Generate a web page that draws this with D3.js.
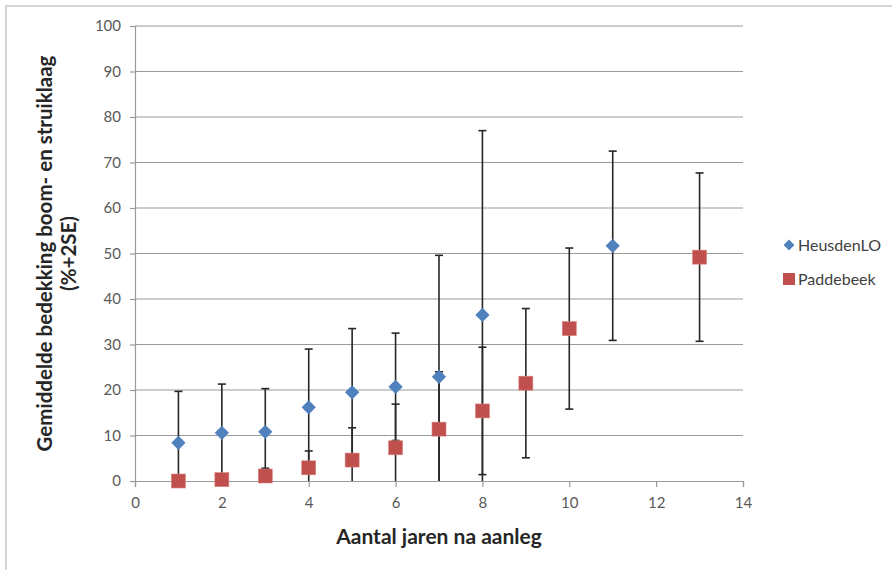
<!DOCTYPE html>
<html>
<head>
<meta charset="utf-8">
<script src="https://cdn.jsdelivr.net/npm/d3@7"></script>
<style>
  body { margin: 0; background: #fff; }
  text { font-family: Lato, "Open Sans", sans-serif; }
</style>
</head>
<body>
<div id="chart"></div>
<script>
// data: gemiddelde bedekking (%) met 2SE foutbalk
const heusdenYears = [1, 2, 3, 4, 5, 6, 7, 8, 11];
const heusdenMean  = [8.4, 10.6, 10.8, 16.2, 19.5, 20.7, 22.9, 36.5, 51.7];
const heusdenErr   = [11.3, 10.7, 9.5, 12.8, 14.0, 11.8, 26.7, 40.5, 20.8];

const paddeYears = [1, 2, 3, 4, 5, 6, 7, 8, 9, 10, 13];
const paddeMean  = [0.0, 0.3, 1.1, 2.9, 4.6, 7.3, 11.4, 15.4, 21.5, 33.5, 49.2];
const paddeErr   = [0.0, 0.0, 1.7, 3.7, 7.1, 9.6, 12.6, 14.0, 16.4, 17.7, 18.5];

const seriesNames = ["HeusdenLO", "Paddebeek"];
const xTicks = [0, 2, 4, 6, 8, 10, 12, 14];
const yTicks = [0, 10, 20, 30, 40, 50, 60, 70, 80, 90, 100];

const width = 892, height = 570;
const margin = { left: 135, right: 149, top: 26, bottom: 89 };

const svg = d3.select("#chart").append("svg")
    .attr("width", width)
    .attr("height", height);

// frame
svg.append("path")
    .attr("d", `M6,${height} V6 H${width}`)
    .attr("fill", "none")
    .attr("stroke", "#c8c8c8")
    .attr("stroke-width", 1.5);

const x = d3.scaleLinear().domain([0, 14]).range([margin.left, width - margin.right]);
const y = d3.scaleLinear().domain([0, 100]).range([height - margin.bottom, margin.top]);

// gridlines
svg.append("g")
    .selectAll("line")
    .data(yTicks.slice(1))
    .join("line")
    .attr("x1", x(0)).attr("x2", x(14))
    .attr("y1", d => y(d)).attr("y2", d => y(d))
    .attr("stroke", "#9a9a9a")
    .attr("stroke-width", 1.2);

// axes
const xAxis = svg.append("g")
    .attr("transform", `translate(0,${y(0)})`)
    .call(d3.axisBottom(x).tickValues(xTicks).tickSize(6).tickPadding(10));
const yAxis = svg.append("g")
    .attr("transform", `translate(${x(0)},0)`)
    .call(d3.axisLeft(y).tickValues(yTicks).tickSize(5).tickPadding(9));

[xAxis, yAxis].forEach(a => {
    a.select(".domain").attr("stroke", "#9a9a9a").attr("stroke-width", 1.2);
    a.selectAll(".tick line").attr("stroke", "#9a9a9a").attr("stroke-width", 1.2);
    a.selectAll(".tick text").attr("fill", "#595959").style("font-size", "15px");
});

// series
const heusden = heusdenYears.map((d, i) => ({ x: d, y: heusdenMean[i], e: heusdenErr[i] }));
const padde = paddeYears.map((d, i) => ({ x: d, y: paddeMean[i], e: paddeErr[i] }));

function errorBars(data) {
    const g = svg.append("g").attr("stroke", "#262626").attr("stroke-width", 1.6);
    data.forEach(d => {
        const lo = Math.max(0, d.y - d.e), hi = Math.min(100, d.y + d.e);
        const cx = x(d.x);
        g.append("line").attr("x1", cx).attr("x2", cx).attr("y1", y(lo)).attr("y2", y(hi));
        g.append("line").attr("x1", cx - 4).attr("x2", cx + 4).attr("y1", y(hi)).attr("y2", y(hi));
        if (d.y - d.e > 0) {
            g.append("line").attr("x1", cx - 4).attr("x2", cx + 4).attr("y1", y(lo)).attr("y2", y(lo));
        }
    });
}
errorBars(heusden);
errorBars(padde);

const diamond = d3.symbol().type(d3.symbolDiamond2).size(130);
svg.append("g")
    .selectAll("path")
    .data(heusden)
    .join("path")
    .attr("d", diamond)
    .attr("transform", d => `translate(${x(d.x)},${y(d.y)})`)
    .attr("fill", "#4f81bd");

svg.append("g")
    .selectAll("rect")
    .data(padde)
    .join("rect")
    .attr("x", d => x(d.x) - 7)
    .attr("y", d => y(d.y) - 7)
    .attr("width", 14).attr("height", 14)
    .attr("fill", "#c0504d")
    .attr("stroke", "#d9837f")
    .attr("stroke-width", 0.6);

// legend
const legend = svg.append("g");
const lg = [{ name: seriesNames[0], yy: 245 }, { name: seriesNames[1], yy: 279 }];
legend.append("path")
    .attr("d", d3.symbol().type(d3.symbolDiamond2).size(75))
    .attr("transform", `translate(789,${lg[0].yy})`)
    .attr("fill", "#4f81bd");
legend.append("rect")
    .attr("x", 783).attr("y", lg[1].yy - 6)
    .attr("width", 12).attr("height", 12)
    .attr("fill", "#c0504d");
legend.selectAll("text")
    .data(lg)
    .join("text")
    .attr("x", 798)
    .attr("y", d => d.yy)
    .attr("dy", "0.35em")
    .attr("fill", "#404040")
    .style("font-size", "16px")
    .text(d => d.name);

// axis titles
svg.append("text")
    .attr("x", (x(0) + x(14)) / 2)
    .attr("y", 544)
    .attr("text-anchor", "middle")
    .attr("fill", "#262626")
    .style("font-size", "21px")
    .style("font-weight", "bold")
    .text("Aantal jaren na aanleg");

const yt = svg.append("text")
    .attr("transform", `translate(52,${(y(0) + y(100)) / 2}) rotate(-90)`)
    .attr("text-anchor", "middle")
    .attr("fill", "#262626")
    .style("font-size", "20.5px")
    .style("font-weight", "bold");
yt.append("tspan").attr("x", 0).attr("y", 0).text("Gemiddelde bedekking boom- en struiklaag");
yt.append("tspan").attr("x", 0).attr("y", 24).text("(%+2SE)");
</script>
</body>
</html>
